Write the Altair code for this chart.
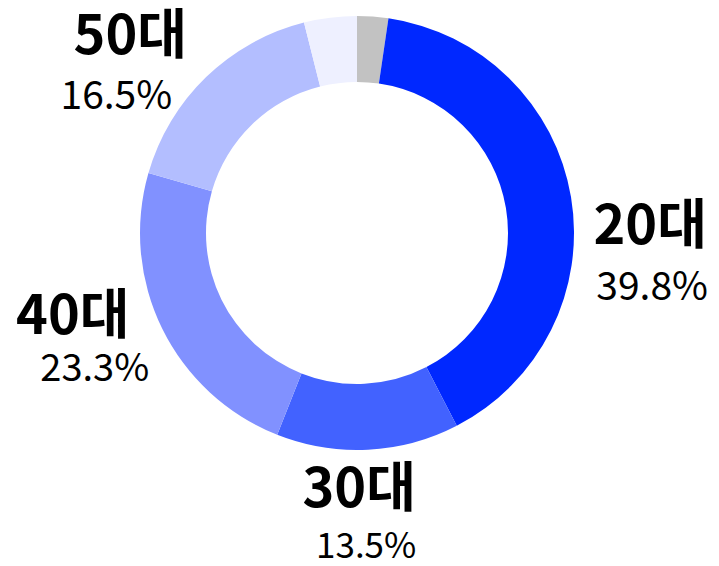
import altair as alt
import pandas as pd

groups = ["기타", "20대", "30대", "40대", "50대", "60대 이상"]
shares = [2.3, 39.8, 13.5, 23.3, 16.5, 3.9]
colors = ["#C2C2C2", "#0028FF", "#4262FF", "#8191FF", "#B3BEFF", "#EEF0FF"]
labeled = ["20대", "30대", "40대", "50대"]
pct_text = ["", "39.8%", "13.5%", "23.3%", "16.5%", ""]

df = pd.DataFrame({
    "group": groups,
    "share": shares,
    "order": list(range(len(groups))),
    "pct": pct_text,
})

FONT = "Noto Sans CJK KR"
CX, CY = 349, 225

base = alt.Chart(df).encode(
    theta=alt.Theta("share:Q", stack=True),
    order=alt.Order("order:Q"),
    x=alt.value(CX),
    y=alt.value(CY),
)

arcs = base.mark_arc(outerRadius=217, innerRadius=151, stroke=None).encode(
    color=alt.Color("group:N", scale=alt.Scale(domain=groups, range=colors), legend=None)
)

# per-label nudges and percent font sizes (style only), relative to the slice mid-angle anchor
nudges = {
    "20대": ((17, 41), (19, 101), 39),
    "30대": ((-12, -22), (-5, 34), 35),
    "40대": ((-33, -39), (-11, 13), 38),
    "50대": ((-32, 6), (-46, 65), 39),
}

layers = [arcs]
for g in labeled:
    (bdx, bdy), (pdx, pdy), psize = nudges[g]
    cond = alt.datum.group == g
    layers.append(
        base.mark_text(radius=280, font=FONT, fontSize=54, fontWeight="bold",
                       color="#000000", dx=bdx, dy=bdy, baseline="middle", align="center")
        .encode(text=alt.condition(cond, alt.Text("group:N"), alt.value("")))
    )
    layers.append(
        base.mark_text(radius=280, font=FONT, fontSize=psize, fontWeight="normal",
                       color="#000000", dx=pdx, dy=pdy, baseline="middle", align="center")
        .encode(text=alt.condition(cond, alt.Text("pct:N"), alt.value("")))
    )

chart = alt.layer(*layers).properties(
    width=703, height=550, padding=0, autosize="none"
).configure_view(stroke=None)

chart.save("out.html", embed_options={"renderer": "svg", "actions": False})
